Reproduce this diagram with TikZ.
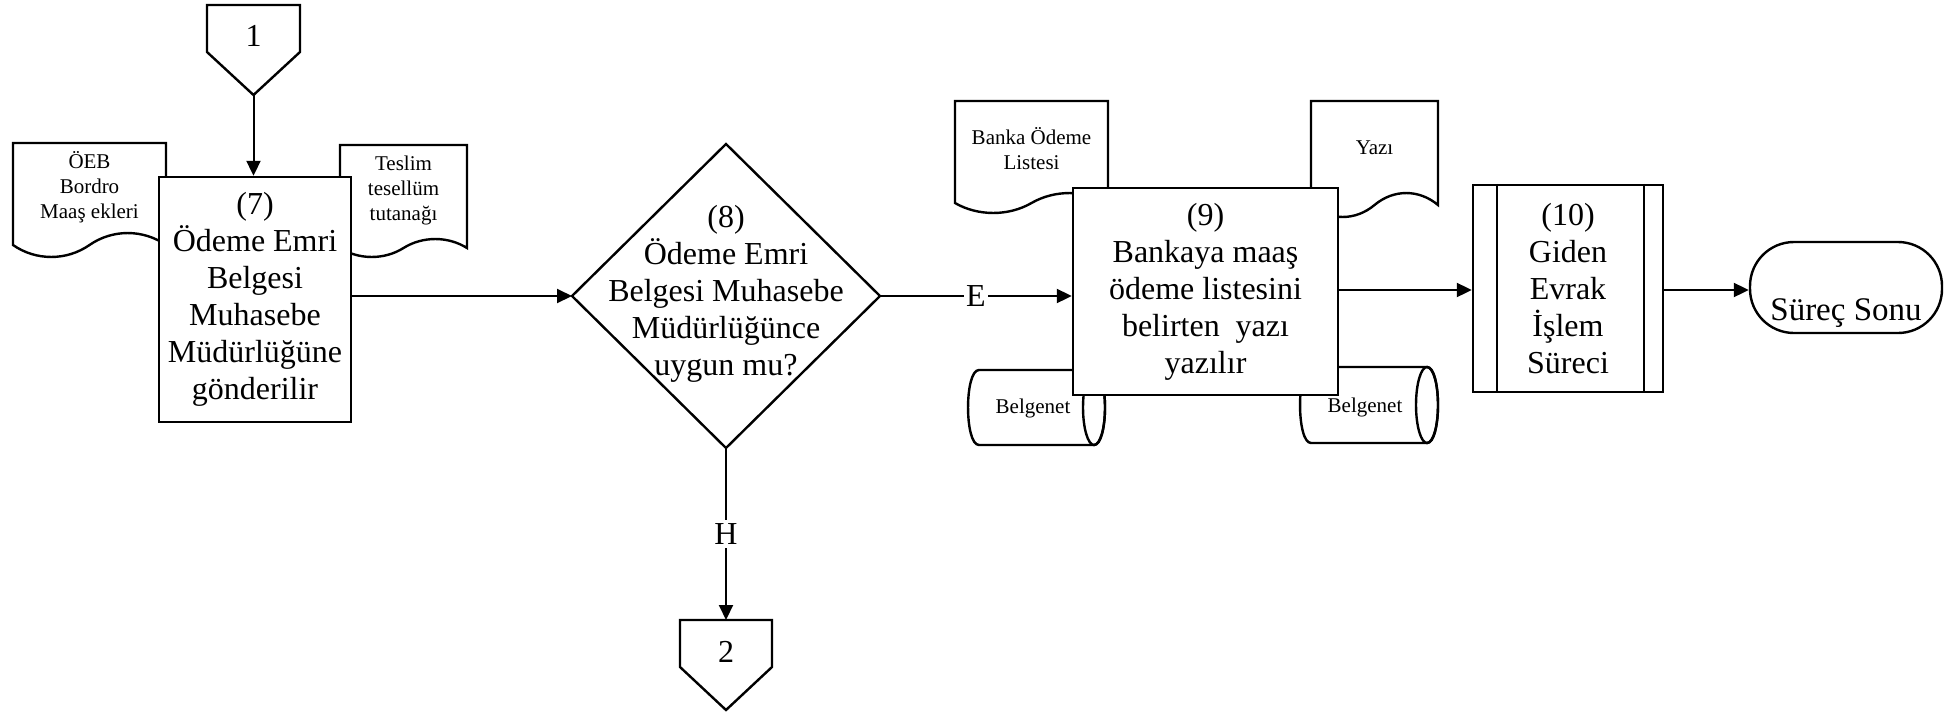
\documentclass[tikz,border=0pt]{standalone}
\usepackage{fontspec}
\setmainfont{Liberation Serif}
\usetikzlibrary{arrows.meta,calc}
\newcommand{\mydocshape}[5]{% x0 x1 ytop ybottom amplitude
  \pgfmathsetmacro{\dw}{#2-#1}
  \draw[shp,fill=white] (#1,#3) -- (#2,#3) -- (#2,#4)
    .. controls ({#1+0.85*\dw},{#4-1.33*#5}) and ({#1+0.65*\dw},{#4-1.33*#5}) .. ({#1+0.5*\dw},#4)
    .. controls ({#1+0.35*\dw},{#4+1.33*#5}) and ({#1+0.15*\dw},{#4+1.33*#5}) .. (#1,#4) -- cycle;
}
\newcommand{\mycylshape}[5]{% x0 x1 ytop ybottom rx
  \draw[shp,fill=white] ({#2-#5},#3) -- ({#1+#5},#3)
    .. controls ({#1+#5-1.33*#5},#3) and ({#1+#5-1.33*#5},#4) .. ({#1+#5},#4)
    -- ({#2-#5},#4)
    .. controls ({#2-#5+1.33*#5},#4) and ({#2-#5+1.33*#5},#3) .. cycle;
  \draw[shp] ({#2-#5},{(#3+#4)/2}) ellipse [x radius=#5, y radius={(#4-#3)/2}];
}
\begin{document}
\begin{tikzpicture}[x=0.5pt,y=-0.5pt,
  shp/.style={line width=1.2pt},
  big/.style={font=\fontsize{16}{18.5}\selectfont, align=center},
  small/.style={font=\fontsize{10.5}{12.5}\selectfont, align=center},
  procbox/.style={draw, shp, fill=white, inner sep=0pt, big},
  frame/.style={inner sep=0pt, outer sep=0pt},
  arr/.style={line width=1pt, -{Triangle[length=7.5pt,width=7pt]}},
  lbl/.style={fill=white, inner sep=2pt, big},
]
\useasboundingbox (0,0) rectangle (1958,718);

% documents
\mydocshape{13}{166}{143}{245}{12}
\node[small] (doc1) at (89.5,187) {ÖEB\\Bordro\\Maaş ekleri};
\mydocshape{340}{467}{145}{248}{9}
\node[small] (doc2) at (403.5,190) {Teslim\\tesellüm\\tutanağı};
\mydocshape{955}{1108}{101}{203}{10}
\node[small] (doc3) at (1031.5,148.5) {Banka Ödeme\\Listesi};
\mydocshape{1311}{1438}{101}{205}{12}
\node[small] (doc4) at (1374.5,148) {Yazı};

% databases
\mycylshape{968}{1105}{370}{445}{11}
\node[small] (db1) at (1033,408) {Belgenet};
\mycylshape{1300}{1438}{367}{443}{11}
\node[small] (db2) at (1365,407) {Belgenet};

% off-page connectors
\node[frame, minimum width=46.5pt, minimum height=45pt] (c1) at (253.5,50) {};
\draw[shp,fill=white] (c1.north west) -- (c1.north east) -- ([yshift=-23.5pt]c1.north east)
  -- (c1.south) -- ([yshift=-23.5pt]c1.north west) -- cycle;
\node[big] (c1t) at (253.5,36) {1};

\node[frame, minimum width=46pt, minimum height=45pt] (c2) at (726,665) {};
\draw[shp,fill=white] (c2.north west) -- (c2.north east) -- ([yshift=-23.5pt]c2.north east)
  -- (c2.south) -- ([yshift=-23.5pt]c2.north west) -- cycle;
\node[big] (c2t) at (726,652) {2};

% process boxes
\node[procbox, minimum width=96pt, minimum height=122.5pt] (b7) at (255,299.5)
  {(7)\\Ödeme Emri\\Belgesi\\Muhasebe\\Müdürlüğüne\\gönderilir};

\node[frame, minimum width=154pt, minimum height=152pt] (dia) at (726,296) {};
\draw[shp,fill=white] (dia.north) -- (dia.east) -- (dia.south) -- (dia.west) -- cycle;
\node[big] (diat) at (726,294) {(8)\\Ödeme Emri\\Belgesi Muhasebe\\Müdürlüğünce\\uygun mu?};

\node[procbox, minimum width=132.5pt, minimum height=103.5pt] (b9) at (1205.5,291.5)
  {(9)\\Bankaya maaş\\ödeme listesini\\belirten\ \ yazı\\yazılır};

\node[procbox, minimum width=95pt, minimum height=103.5pt] (b10) at (1568,288.5)
  {(10)\\Giden\\Evrak\\İşlem\\Süreci};
\draw[shp] ([xshift=12.5pt]b10.north west) -- ([xshift=12.5pt]b10.south west);
\draw[shp] ([xshift=-10pt]b10.north east) -- ([xshift=-10pt]b10.south east);

\node[draw, shp, fill=white, minimum width=96pt, minimum height=45.5pt, rounded corners=22pt, inner sep=0pt] (end) at (1846,287.5) {};
\node[font=\fontsize{16.5}{19}\selectfont] (endt) at (1846,313) {Süreç Sonu};

% connectors
\draw[arr] (c1.south) -- (c1.south |- b7.north);
\draw[arr] (b7.east |- dia.west) -- (dia.west);
\draw[arr] (dia.east) -- node[lbl, inner sep=1pt] (e) {E} (b9.west |- dia.east);
\draw[arr] (dia.south) -- node[lbl] (h) {H} (c2.north);
\draw[arr] (b9.east |- 0,290) -- (b10.west |- 0,290);
\draw[arr] (b10.east |- 0,290) -- (end.west |- 0,290);
\end{tikzpicture}
\end{document}
